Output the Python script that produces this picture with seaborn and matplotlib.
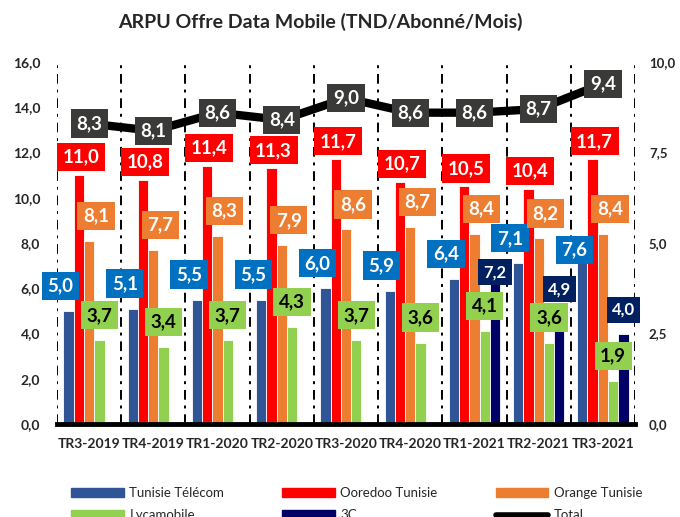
import numpy as np
import pandas as pd
import matplotlib
import matplotlib.pyplot as plt
plt.switch_backend('agg')
import seaborn as sns
from matplotlib.patches import Patch
from matplotlib.lines import Line2D
from matplotlib.ticker import FuncFormatter

import warnings
warnings.filterwarnings('ignore')

quarters = ['TR3-2019', 'TR4-2019', 'TR1-2020', 'TR2-2020', 'TR3-2020',
            'TR4-2020', 'TR1-2021', 'TR2-2021', 'TR3-2021']
tunisie_telecom = [5.0, 5.1, 5.5, 5.5, 6.0, 5.9, 6.4, 7.1, 7.6]
ooredoo = [11.0, 10.8, 11.4, 11.3, 11.7, 10.7, 10.5, 10.4, 11.7]
orange = [8.1, 7.7, 8.3, 7.9, 8.6, 8.7, 8.4, 8.2, 8.4]
lycamobile = [3.7, 3.4, 3.7, 4.3, 3.7, 3.6, 4.1, 3.6, 1.9]
trois_c = [np.nan] * 6 + [7.2, 4.9, 4.0]
total = [8.3, 8.1, 8.6, 8.4, 9.0, 8.6, 8.6, 8.7, 9.4]

operators = ['Tunisie Télécom', 'Ooredoo Tunisie', 'Orange Tunisie', 'Lycamobile', '3C']
series = [tunisie_telecom, ooredoo, orange, lycamobile, trois_c]

bar_colors = ['#2F5597', '#FF0000', '#ED7D31', '#92D050', '#000066']
box_colors = ['#0070C0', '#FF0000', '#ED7D31', '#92D050', '#002060']
text_colors = ['white', 'white', 'white', 'black', 'white']
label_sizes = [13.5, 13.5, 13.5, 13.5, 12]
# label offsets in pixels (dx, dy) relative to bar top
offsets = [(-8, 25), (2, 18), (7, 25), (0, 25), (0, 24)]
# a few labels moved by hand in the original
nudges = {(4, 6): (0, -11), (0, 8): (-8, 2)}

rows = []
for op, vals in zip(operators, series):
    for q, v in zip(quarters, vals):
        rows.append({'Trimestre': q, 'Opérateur': op, 'ARPU': v})
df = pd.DataFrame(rows)

sns.set_style('white')
plt.rcParams['font.family'] = ['Lato', 'DejaVu Sans']

def comma(v):
    return f'{v:.1f}'.replace('.', ',')

fig = plt.figure(figsize=(6.8, 5.17), dpi=100)
ax = fig.add_axes([57 / 680, 1 - 424 / 517, 578 / 680, 362 / 517])

sns.barplot(data=df, x='Trimestre', y='ARPU', hue='Opérateur', hue_order=operators,
            palette=bar_colors, width=0.8, edgecolor='white', linewidth=0.6,
            legend=False, ax=ax, saturation=1)

ax.set_xlim(-0.5, len(quarters) - 0.5)
ax.set_ylim(0, 16)
ax.set_yticks(np.arange(0, 16.1, 2))
ax.yaxis.set_major_formatter(FuncFormatter(lambda v, p: comma(v)))
ax.set_xlabel('')
ax.set_ylabel('')
for s in ['top', 'left', 'right']:
    ax.spines[s].set_visible(False)
ax.spines['bottom'].set_linewidth(3.5)
ax.spines['bottom'].set_color('black')
ax.set_xticks(np.arange(-0.5, len(quarters)), minor=True)
ax.tick_params(axis='x', which='major', length=0, pad=10, labelsize=10)
ax.tick_params(axis='x', which='minor', length=4, width=2, color='black')
ax.tick_params(axis='y', length=0, labelsize=10, pad=12)
for lab in ax.get_xticklabels() + ax.get_yticklabels():
    lab.set_fontweight('bold')
ax.grid(False)
ax.xaxis.grid(True, which='minor', color='black', linewidth=1.4,
              linestyle=(0, (5, 3, 1.5, 3)))
ax.set_axisbelow(True)

# data labels
for i, cont in enumerate(ax.containers):
    for bar in cont:
        h = bar.get_height()
        if np.isnan(h) or h == 0:
            continue
        xc = bar.get_x() + bar.get_width() / 2
        qi = int(round(xc))
        off = nudges.get((i, qi), offsets[i])
        ax.annotate(comma(h), (xc, h), xytext=off, textcoords='offset pixels',
                    ha='center', va='center', fontsize=label_sizes[i], fontweight='bold',
                    color=text_colors[i], zorder=5,
                    bbox=dict(boxstyle='square,pad=0.3', fc=box_colors[i], ec='none'))

ax2 = ax.twinx()
sns.pointplot(x=quarters, y=total, ax=ax2, color='black', markers='',
              linewidth=6, errorbar=None)
ax2.set_xlim(-0.5, len(quarters) - 0.5)
ax2.set_ylim(0, 10)
ax2.set_yticks(np.arange(0, 10.1, 2.5))
ax2.yaxis.set_major_formatter(FuncFormatter(lambda v, p: comma(v)))
ax2.tick_params(axis='y', length=0, labelsize=9.5, pad=10)
for lab in ax2.get_yticklabels():
    lab.set_fontweight('bold')
for s in ['top', 'left', 'right', 'bottom']:
    ax2.spines[s].set_visible(False)
ax2.set_ylabel('')
ax2.set_xlabel('')

for q, v in zip(range(len(quarters)), total):
    ax2.annotate(comma(v), (q, v), ha='center', va='center', fontsize=13.5,
                 fontweight='bold', color='white', zorder=6,
                 bbox=dict(boxstyle='square,pad=0.3', fc='#3A3A38', ec='none'))

fig.text(320 / 680, 1 - 22 / 517, 'ARPU Offre Data Mobile (TND/Abonné/Mois)',
         ha='center', va='center', fontsize=14, fontweight='bold')

handles = [Patch(color=c) for c in bar_colors] + \
          [Line2D([], [], color='black', linewidth=4, solid_capstyle='round')]
labels = operators + ['Total']
order = [0, 3, 1, 4, 2, 5]
fig.legend([handles[k] for k in order], [labels[k] for k in order],
           loc='upper left', bbox_to_anchor=(66 / 680, 1 - 482 / 517), ncol=3,
           frameon=False, fontsize=9.5, handlelength=4.0, handleheight=0.6,
           handletextpad=0.4, columnspacing=4.4, labelspacing=0.75, borderaxespad=0)

fig.savefig('out.png', dpi=100)
